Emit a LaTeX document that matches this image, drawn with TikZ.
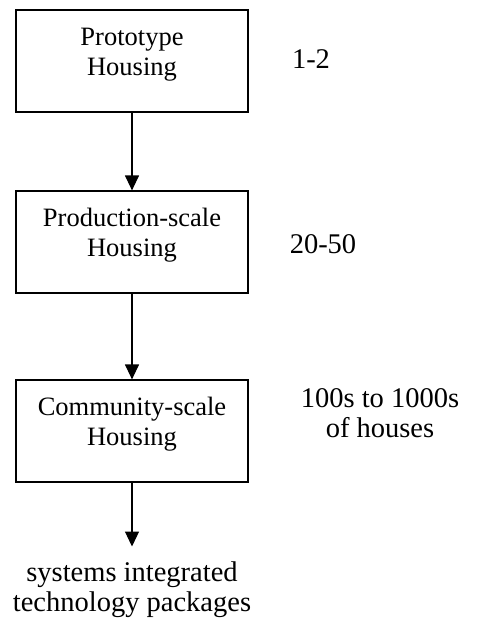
\documentclass[tikz,border=0pt]{standalone}
\usepackage{fontspec}
\setmainfont{Liberation Serif}
\usetikzlibrary{arrows.meta}
\newcommand\padlow{\rule[-19pt]{0pt}{0pt}}
\tikzset{
  stage/.style={draw, line width=1.2pt, minimum width=232pt, minimum height=102pt, align=center, font=\fontsize{26.5}{30}\selectfont},
  count/.style={align=center, font=\fontsize{28.5}{30}\selectfont},
  flow/.style={line width=1.2pt, -{Triangle[width=14pt,length=15pt]}}
}
\begin{document}
\begin{tikzpicture}[x=1pt,y=-1pt]
\useasboundingbox (0,0) rectangle (477,622);
\pgfmathsetmacro\midx{132}
% housing stages
\node[stage] (proto) at (\midx,61) {Prototype\\Housing\padlow};
\node[stage] (prod) at (\midx,242) {Production-scale\\Housing\padlow};
\node[stage] (comm) at (\midx,431) {Community-scale\\Housing\padlow};
\node[count] (out) at (\midx,590) {systems integrated\\technology packages};
% number of houses
\node[count, anchor=base] (few) at (311,68) {1-2};
\node[count, anchor=base] (some) at (323,253) {20-50};
\node[count] (many) at (380,413) {100s to 1000s\\of houses};
\foreach \a/\b in {proto/prod, prod/comm} \draw[flow] (\a) -- (\b);
\draw[flow, shorten >=12pt] (comm) -- (out);
\end{tikzpicture}
\end{document}
